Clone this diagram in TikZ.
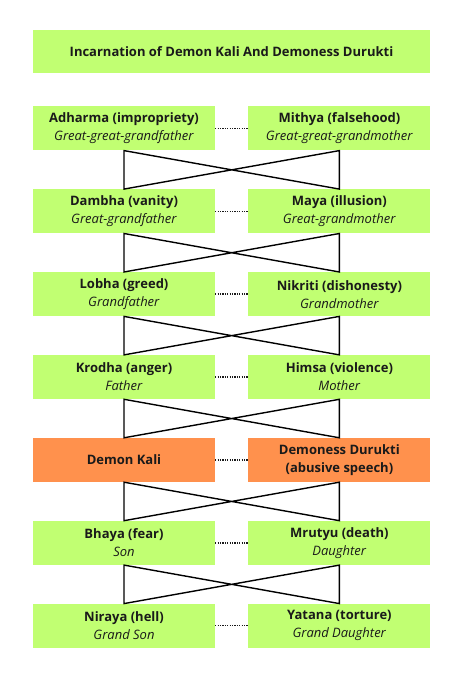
\documentclass[tikz,border=0pt]{standalone}
\usepackage{fontspec}
\setmainfont{Open Sans}
\usetikzlibrary{positioning}

\definecolor{limegreen}{HTML}{C1FF72}
\definecolor{kaliorange}{HTML}{FF914D}
\definecolor{inkdark}{HTML}{1A1A1A}

\begin{document}
\begin{tikzpicture}[
    x=1pt, y=1pt,
    node distance=38.5pt and 33pt,
    every node/.style={font=\fontsize{13}{18}\selectfont, text=inkdark},
    titlebox/.style={
        rectangle,
        fill=limegreen,
        minimum width=397pt,
        minimum height=43pt,
        inner sep=0pt,
        font=\fontsize{13}{18}\selectfont\bfseries
    },
    member/.style={
        rectangle,
        fill=limegreen,
        minimum width=182pt,
        minimum height=44pt,
        inner sep=0pt,
        align=center
    },
    demon/.style={
        member,
        fill=kaliorange,
        font=\fontsize{13}{18}\selectfont\bfseries
    },
    cross/.style={
        line width=1.4pt,
        line join=miter,
        draw=black
    },
    spouse/.style={
        line width=1.4pt,
        dash pattern=on 1.2pt off 1.2pt,
        draw=inkdark
    }
]
\useasboundingbox (0,0) rectangle (460,680);

% --- title ---
\node (title) [titlebox] at (231.5,628.5) {Incarnation of Demon Kali And Demoness Durukti};

% --- left line ---
\node (adharma) [member, below right=33pt and 0pt of title.south west, anchor=north west] {\textbf{Adharma (impropriety)}\\\textit{Great-great-grandfather}};
\node (dambha) [member, below=of adharma] {\textbf{Dambha (vanity)}\\\textit{Great-grandfather}};
\node (lobha) [member, below=of dambha] {\textbf{Lobha (greed)}\\\textit{Grandfather}};
\node (krodha) [member, below=of lobha] {\textbf{Krodha (anger)}\\\textit{Father}};
\node (kali) [demon, below=of krodha] {Demon Kali};
\node (bhaya) [member, below=of kali] {\textbf{Bhaya (fear)}\\\textit{Son}};
\node (niraya) [member, below=of bhaya] {\textbf{Niraya (hell)}\\\textit{Grand Son}};

% --- right line ---
\node (mithya) [member, right=of adharma] {\textbf{Mithya (falsehood)}\\\textit{Great-great-grandmother}};
\node (maya) [member, right=of dambha] {\textbf{Maya (illusion)}\\\textit{Great-grandmother}};
\node (nikriti) [member, right=of lobha] {\textbf{Nikriti (dishonesty)}\\\textit{Grandmother}};
\node (himsa) [member, right=of krodha] {\textbf{Himsa (violence)}\\\textit{Mother}};
\node (durukti) [demon, right=of kali] {Demoness Durukti\\(abusive speech)};
\node (mrutyu) [member, right=of bhaya] {\textbf{Mrutyu (death)}\\\textit{Daughter}};
\node (yatana) [member, right=of niraya] {\textbf{Yatana (torture)}\\\textit{Grand Daughter}};

% --- couples ---
\draw [spouse] (adharma) -- (mithya);
\draw [spouse] (dambha) -- (maya);
\draw [spouse] (lobha) -- (nikriti);
\draw [spouse] (krodha) -- (himsa);
\draw [spouse] (kali) -- (durukti);
\draw [spouse] (bhaya) -- (mrutyu);
\draw [spouse] (niraya) -- (yatana);

% --- crosses ---
\draw [cross] (adharma.south) -- (dambha.north) -- (mithya.south) -- (maya.north) -- cycle;
\draw [cross] (dambha.south) -- (lobha.north) -- (maya.south) -- (nikriti.north) -- cycle;
\draw [cross] (lobha.south) -- (krodha.north) -- (nikriti.south) -- (himsa.north) -- cycle;
\draw [cross] (krodha.south) -- (kali.north) -- (himsa.south) -- (durukti.north) -- cycle;
\draw [cross] (kali.south) -- (bhaya.north) -- (durukti.south) -- (mrutyu.north) -- cycle;
\draw [cross] (bhaya.south) -- (niraya.north) -- (mrutyu.south) -- (yatana.north) -- cycle;

\end{tikzpicture}
\end{document}
